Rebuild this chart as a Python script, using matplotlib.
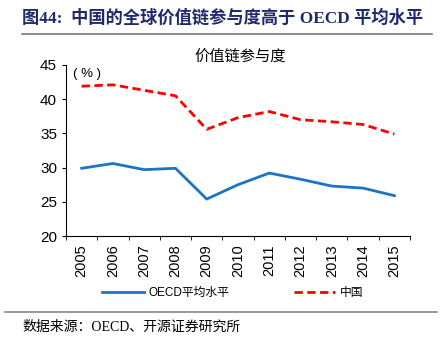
import matplotlib
matplotlib.use('Agg')
import matplotlib.pyplot as plt
from matplotlib.lines import Line2D

plt.rcParams['font.family'] = ['Liberation Sans', 'Noto Sans CJK SC', 'DejaVu Sans']
plt.rcParams['axes.unicode_minus'] = False

# 数据
years = ['2005', '2006', '2007', '2008', '2009', '2010',
         '2011', '2012', '2013', '2014', '2015']
oecd = [29.9, 30.6, 29.7, 29.9, 25.4, 27.5, 29.2, 28.3, 27.3, 27.0, 25.9]
china = [41.9, 42.1, 41.3, 40.5, 35.6, 37.3, 38.2, 37.0, 36.7, 36.3, 34.9]
yticks = [20, 25, 30, 35, 40, 45]

W, H = 440, 350
fig = plt.figure(figsize=(W / 100, H / 100), dpi=100)

# 坐标区（像素位置换算）
left, right, top, bottom = 66, 410, 65, 236
ax = fig.add_axes([left / W, 1 - bottom / H, (right - left) / W, (bottom - top) / H])

x = list(range(len(years)))
ax.plot(x, oecd, color='#1B75C4', lw=2, label='OECD平均水平')
ax.plot(x, china, color='#FF0000', lw=2, ls=(0, (3, 1.6)), label='中国')

ax.set_xlim(-0.5, len(years) - 0.5)
ax.set_ylim(20, 45)
ax.set_yticks(yticks)
ax.set_yticklabels([str(v) for v in yticks], fontsize=11)
ax.set_xticks(x)
ax.set_xticklabels(years, rotation=90, fontsize=10.5)
ax.tick_params(axis='x', length=0, pad=6)
# 类别轴：刻度线位于类别之间
ax.set_xticks([i - 0.5 for i in range(len(years) + 1)], minor=True)
ax.tick_params(axis='x', which='minor', length=3, direction='out')
ax.tick_params(axis='y', length=3, direction='out')
for s in ['top', 'right']:
    ax.spines[s].set_visible(False)
ax.spines['left'].set_linewidth(0.8)
ax.spines['bottom'].set_linewidth(0.8)

ax.text(0.02, 0.985, '( % )', transform=ax.transAxes, fontsize=9.5, va='top', ha='left')

# 图表标题
fig.text(240 / W, 1 - 56 / H, '价值链参与度', ha='center', va='center',
         fontsize=11, family=['Noto Sans CJK SC'])

# 报告标题
fig.text(22 / W, 1 - 18 / H, '图44:  中国的全球价值链参与度高于 OECD 平均水平',
         ha='left', va='center', fontsize=12.4, fontweight='bold', color='#1F2A6B',
         family=['Liberation Serif', 'Noto Sans CJK SC'])
fig.add_artist(Line2D([22 / W, 432 / W], [1 - 34 / H, 1 - 34 / H], color='#777777', lw=1.2))

# 图例
handles, labels = ax.get_legend_handles_labels()
fig.legend(handles, labels, loc='center', bbox_to_anchor=(233 / W, 1 - 293 / H),
           ncol=2, frameon=False, fontsize=8.5, handlelength=3.5, columnspacing=5.5,
           handletextpad=0.4)

# 底部来源
fig.add_artist(Line2D([5 / W, 437 / W], [1 - 312 / H, 1 - 312 / H], color='#888888', lw=1.2))
fig.text(22 / W, 1 - 327 / H, '数据来源：OECD、开源证券研究所', ha='left', va='center',
         fontsize=10, family=['Liberation Serif', 'Noto Sans CJK SC'])

fig.savefig('out.png', dpi=100)
